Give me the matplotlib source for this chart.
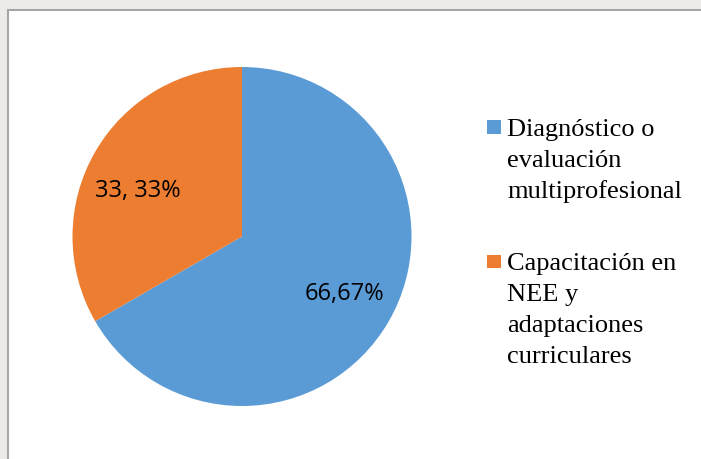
import matplotlib.pyplot as plt
from matplotlib.patches import Rectangle
import numpy as np

# data
categories = ["Diagnóstico o\nevaluación\nmultiprofesional",
              "Capacitación en\nNEE y\nadaptaciones\ncurriculares"]
values = [66.67, 33.33]
value_labels = ["66,67%", "33, 33%"]
colors = ["#5B9BD5", "#ED7D31"]

W, H = 701, 459
fig = plt.figure(figsize=(W / 100, H / 100), dpi=100)
fig.patch.set_facecolor("#EEEAEA")

# white chart area with a grey frame on the left and top (right/bottom run off the image)
fig.patches.append(Rectangle((7.5 / W, -0.1), 1.2, 1.1 - 10.5 / H, transform=fig.transFigure,
                             facecolor="white", edgecolor="#A6A6A6", lw=1.5, zorder=-5))

# pie: centre (242, 236.5) px, radius 169.5 px
cx, cy, r = 242, 236.5, 169.5
ax = fig.add_axes([(cx - r) / W, (H - cy - r) / H, 2 * r / W, 2 * r / H])
ax.set_zorder(2)
ax.patch.set_visible(False)
wedges, _ = ax.pie(values, colors=colors, startangle=90, counterclock=False,
                   radius=1, wedgeprops=dict(linewidth=0))
ax.set_xlim(-1, 1)
ax.set_ylim(-1, 1)
ax.set_aspect("equal")
ax.axis("off")

# Excel nudges the labels a little off the wedge midpoint (offsets in points)
nudges = [(2, 0), (-3, -9)]
for w, lab, (dx, dy) in zip(wedges, value_labels, nudges):
    ang = np.deg2rad((w.theta1 + w.theta2) / 2)
    ax.annotate(lab, (0.68 * np.cos(ang), 0.68 * np.sin(ang)), xytext=(dx, dy),
                textcoords="offset points", ha="center", va="center",
                fontsize=17, family="Open Sans", color="black")

# legend drawn by hand so the squares sit on the first line
first_baselines = [136, 270]
line_step = 31
for lab, col, yb in zip(categories, colors, first_baselines):
    fig.patches.append(Rectangle((487 / W, 1 - (yb - 2) / H), 13.5 / W, 13.5 / H,
                                 transform=fig.transFigure, facecolor=col, lw=0))
    for i, line in enumerate(lab.split("\n")):
        fig.text(507 / W, 1 - (yb + i * line_step) / H, line, ha="left", va="baseline",
                 fontsize=19, family="Liberation Serif", color="black")

fig.savefig("out.png", dpi=100, facecolor=fig.get_facecolor())
